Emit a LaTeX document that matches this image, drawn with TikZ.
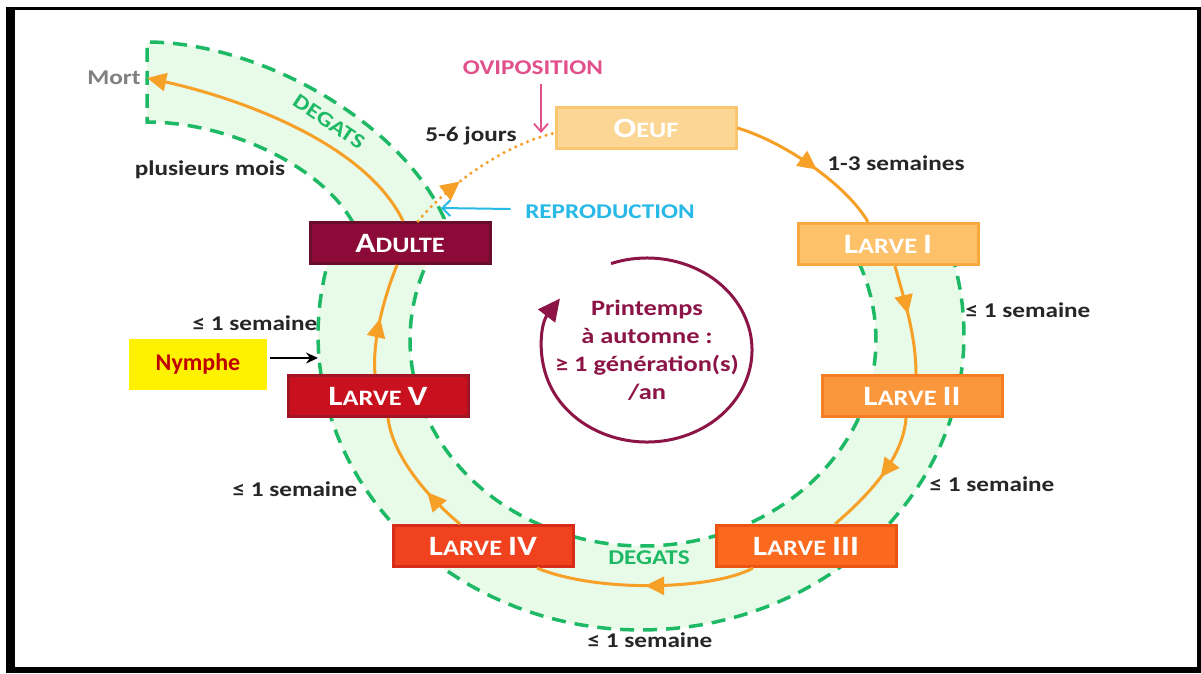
\documentclass[tikz,border=0pt]{standalone}
\usepackage{fontspec}
\setmainfont{Carlito}[FakeStretch=1.2]
\newfontfamily\nymfont{Carlito}
\usepackage{tikz}
\usepackage{color}
\usetikzlibrary{arrows.meta, decorations.markings}

\definecolor{oeufC}{RGB}{252,214,148}
\definecolor{oeufD}{RGB}{250,198,112}
\definecolor{larveIC}{RGB}{252,193,105}
\definecolor{larveID}{RGB}{249,168,62}
\definecolor{larveIIC}{RGB}{250,150,60}
\definecolor{larveIID}{RGB}{245,125,35}
\definecolor{larveIIIC}{RGB}{250,105,30}
\definecolor{larveIIID}{RGB}{236,84,20}
\definecolor{larveIVC}{RGB}{240,66,30}
\definecolor{larveIVD}{RGB}{214,44,24}
\definecolor{larveVC}{RGB}{200,16,30}
\definecolor{larveVD}{RGB}{160,20,36}
\definecolor{adulteC}{RGB}{140,10,55}
\definecolor{adulteD}{RGB}{104,14,44}
\definecolor{cycOrange}{RGB}{247,160,40}
\definecolor{degGreen}{RGB}{30,185,100}
\definecolor{degFill}{RGB}{232,250,232}
\definecolor{genC}{RGB}{140,20,70}
\definecolor{oviC}{RGB}{226,80,140}
\definecolor{reproC}{RGB}{40,185,230}
\definecolor{labC}{RGB}{38,38,38}
\definecolor{nymC}{RGB}{192,0,0}

\newcommand\bigsc{\fontsize{28}{30}\selectfont}
\newcommand\smallsc{\fontsize{22}{24}\selectfont}

\tikzstyle{stage} = [draw, line width=3pt, minimum width=180pt, minimum height=41pt, text=white, font=\bfseries, inner sep=0pt]
\tikzstyle{lbl} = [text=labC, font=\bfseries\fontsize{21}{24}\selectfont]
\tikzstyle{cyc} = [color=cycOrange, line width=3pt]
\tikzstyle{dotline} = [line width=3.5pt, dash pattern=on 0pt off 6.5pt, line cap=round]
\tikzstyle{band} = [fill=degFill, draw=degGreen, line width=3.5pt, dash pattern=on 14pt off 9pt]
\tikzset{midarrow/.style={postaction={decorate}, decoration={markings, mark=at position #1 with {\arrow{Triangle[length=19pt,width=18pt]}}}}}

\begin{document}
\begin{tikzpicture}[x=1pt, y=-1pt]
\useasboundingbox (0,0) rectangle (1201,673);
\fill[white] (0,0) rectangle (1201,673);
\fill[black] (6,7) rectangle (1201,673);
\fill[white] (15,10) rectangle (1197,667);

% damage band
\filldraw[band] plot[domain=-16:196, samples=90] ({641+323*cos(\x)},{335+295*sin(\x)})
  -- (352,221) .. controls (320,165) and (227,122) .. (147,122)
  -- (147,42) .. controls (257,42) and (400,120) .. (444,218)
  -- plot[domain=203:-25, samples=90] ({643+233*cos(\x)},{340+206*sin(\x)}) -- cycle;

% stages
\node[stage, fill=oeufC, draw=oeufD] (oeuf) at (646,128) {\bigsc O\smallsc EUF};
\node[stage, fill=larveIC, draw=larveID] (l1) at (888,244) {\bigsc L\smallsc ARVE \bigsc I};
\node[stage, fill=larveIIC, draw=larveIID] (l2) at (912,396) {\bigsc L\smallsc ARVE \bigsc II};
\node[stage, fill=larveIIIC, draw=larveIIID] (l3) at (806,546) {\bigsc L\smallsc ARVE \bigsc III};
\node[stage, fill=larveIVC, draw=larveIVD] (l4) at (483,546) {\bigsc L\smallsc ARVE \bigsc IV};
\node[stage, fill=larveVC, draw=larveVD] (l5) at (378,396) {\bigsc L\smallsc ARVE \bigsc V};
\node[stage, fill=adulteC, draw=adulteD] (adulte) at (400,243) {\bigsc A\smallsc DULTE};

% labels
\node[lbl] (t13) at (896,163) {1-3 semaines};
\node[lbl] (t12) at (1028,310) {≤ 1 semaine};
\node[lbl] (t23) at (992,484) {≤ 1 semaine};
\node[lbl] (t34) at (650,640) {≤ 1 semaine};
\node[lbl] (t45) at (295,489) {≤ 1 semaine};
\node[lbl] (t5a) at (255,323) {≤ 1 semaine};
\node[lbl] (mois) at (210,170) {plusieurs mois};
\node[lbl] (jours) at (471,136) {5-6 jours};
\node[lbl, text=gray] (mort) at (114,78) {Mort};
\node[lbl, text=oviC] (ovi) at (533,68) {OVIPOSITION};
\node[lbl, text=reproC] (repro) at (610,212) {REPRODUCTION};
\node[lbl, text=degGreen, rotate=-34, inner sep=1pt] (deg1) at (329,122) {DEGATS};
\node[lbl, text=degGreen] (deg2) at (649,558) {DEGATS};
\node[fill=yellow, minimum width=138pt, minimum height=51pt, text=nymC, font=\nymfont\bfseries\fontsize{24}{26}\selectfont] (nymphe) at (198,364) {Nymphe};

% cycle
\draw[cyc, midarrow=0.55] (oeuf.east) .. controls +(50,15) and +(-20,-35) .. ([xshift=-20pt]l1.north);
\draw[cyc, midarrow=0.45] ([xshift=7pt]l1.south) .. controls +(8,30) and +(0,-40) .. ([xshift=4pt]l2.north);
\draw[cyc, midarrow=0.5] ([xshift=-6pt]l2.south) .. controls +(-3,40) and +(35,-30) .. ([xshift=29pt]l3.north);
\draw[cyc, midarrow=0.5] ([xshift=-53pt]l3.south) .. controls +(-40,22) and +(60,25) .. ([xshift=54pt]l4.south);
\draw[cyc, midarrow=0.35] ([xshift=-23pt]l4.north) .. controls +(-30,-25) and +(5,40) .. ([xshift=10pt]l5.south);
\draw[cyc, midarrow=0.5] ([xshift=-3pt]l5.north) .. controls +(-3,-35) and +(-12,30) .. ([xshift=-3pt]adulte.south);
\draw[cyc, -{Triangle[length=19pt,width=18pt]}] ([xshift=3pt]adulte.north) .. controls +(-39,-81) and +(83,18) .. ([xshift=3pt]mort.east);
\draw[cyc, dotline, midarrow=0.35] ([xshift=18pt]adulte.north) .. controls +(27,-32) and +(-55,13) .. ([yshift=-5pt]oeuf.west);

% generations
\node[text=genC, font=\bfseries\fontsize{22}{28}\selectfont, align=center] (gen) at (647,350) {Printemps\\à automne :\\≥ 1 génération(s)\\/an};
\draw[genC, line width=3pt, -{Triangle[length=22pt,width=21pt]}] (gen.center) ++(-110:105 and 92) arc[start angle=-110, end angle=214, x radius=105, y radius=92];

% pointers
\coordinate (ovitip) at (541,133);
\draw[oviC, line width=1.8pt, -{Straight Barb[length=8pt,width=14pt]}] (ovi.south) ++(8,6) -- (ovitip);
\coordinate (reprotip) at (441,208);
\draw[reproC, line width=2pt, -{Straight Barb[length=8pt,width=16pt]}] (repro.west) ++(-11,-3) -- (reprotip);
\coordinate (nymtip) at (318,358);
\draw[line width=1.5pt, -{Stealth[length=12pt,width=11pt]}] ([yshift=6pt]nymphe.east) ++(3,0) -- (nymtip);
\end{tikzpicture}
\end{document}
